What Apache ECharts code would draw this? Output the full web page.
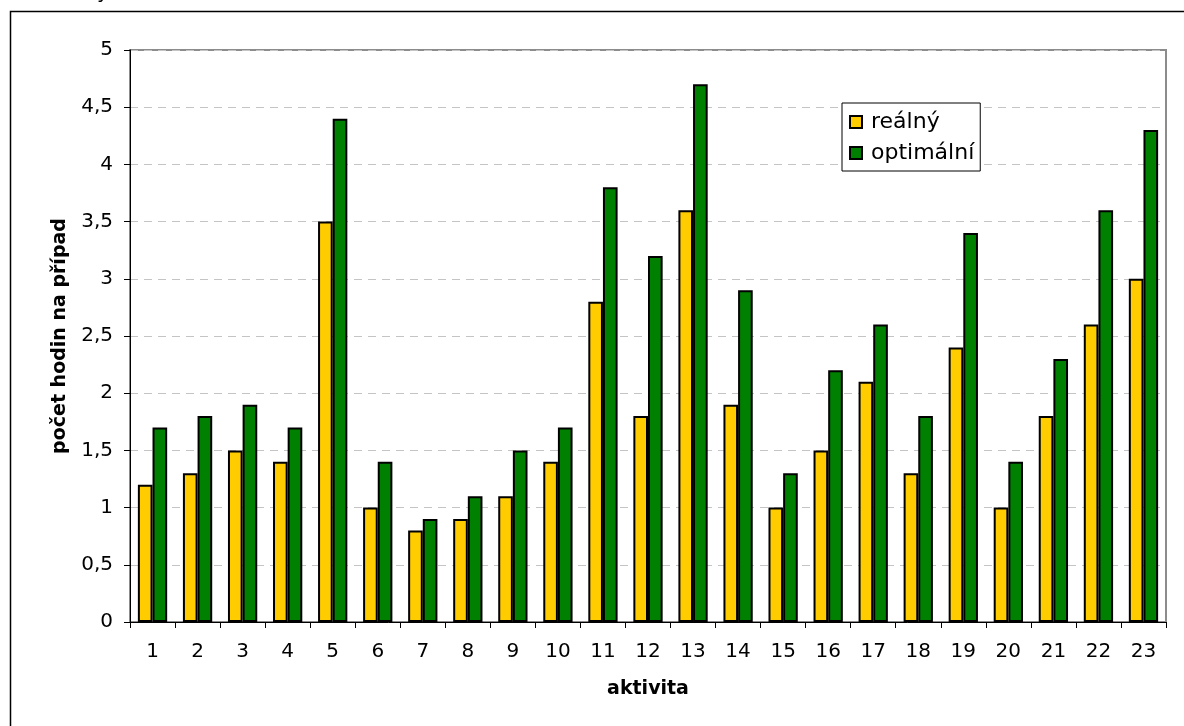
<!DOCTYPE html>
<html>
<head>
<meta charset="utf-8">
<script src="https://cdn.jsdelivr.net/npm/echarts@6/dist/echarts.min.js"></script>
<style>
  html, body { margin: 0; padding: 0; background: #fff; }
</style>
</head>
<body>
<div id="chart" style="width:1184px;height:726px;"></div>
<script>
var activities = ["1","2","3","4","5","6","7","8","9","10","11","12","13","14","15","16","17","18","19","20","21","22","23"];
var realne = [1.2, 1.3, 1.5, 1.4, 3.5, 1.0, 0.8, 0.9, 1.1, 1.4, 2.8, 1.8, 3.6, 1.9, 1.0, 1.5, 2.1, 1.3, 2.4, 1.0, 1.8, 2.6, 3.0];
var optimalni = [1.7, 1.8, 1.9, 1.7, 4.4, 1.4, 0.9, 1.1, 1.5, 1.7, 3.8, 3.2, 4.7, 2.9, 1.3, 2.2, 2.6, 1.8, 3.4, 1.4, 2.3, 3.6, 4.3];

var chart = echarts.init(document.getElementById("chart"));
var font = "DejaVu Sans";

var option = {
  animation: false,
  textStyle: { fontFamily: font },
  graphic: [
    {
      // outer frame, runs off the bottom/right of the picture
      type: "rect",
      shape: { x: 10.5, y: 11.5, width: 1300, height: 900 },
      style: { fill: "none", stroke: "#000", lineWidth: 1.5 },
      silent: true,
      z: -10
    },
    {
      type: "text",
      left: 97,
      top: -17,
      style: { text: "y", font: "20px DejaVu Sans", fill: "#000" }
    }
  ],
  grid: {
    left: 130,
    top: 50,
    right: 18,
    bottom: 104,
    show: true,
    borderColor: "#8c8c8c",
    borderWidth: 2
  },
  legend: {
    orient: "vertical",
    left: 842,
    top: 103,
    backgroundColor: "#fff",
    borderColor: "#000",
    borderWidth: 1,
    padding: [8, 6, 7, 7],
    itemGap: 9,
    itemWidth: 12,
    itemHeight: 12,
    textStyle: { fontFamily: font, fontSize: 22, color: "#000", padding: [0, 0, 0, 4] },
    data: [
      { name: "reálný", icon: "rect" },
      { name: "optimální", icon: "rect" }
    ]
  },
  xAxis: {
    type: "category",
    data: activities,
    name: "aktivita",
    nameLocation: "middle",
    nameGap: 58,
    nameTextStyle: { fontFamily: font, fontSize: 19, fontWeight: "bold", color: "#000" },
    axisLine: { lineStyle: { color: "#000", width: 1 } },
    axisTick: { show: true, length: 6, lineStyle: { color: "#000" } },
    axisLabel: { fontSize: 20, color: "#000", margin: 20, fontFamily: font }
  },
  yAxis: {
    type: "value",
    min: 0,
    max: 5,
    interval: 0.5,
    name: "počet hodin na případ",
    nameLocation: "middle",
    nameGap: 60,
    nameTextStyle: { fontFamily: font, fontSize: 19, fontWeight: "bold", color: "#000" },
    axisLine: { show: true, lineStyle: { color: "#000", width: 1 } },
    axisTick: { show: true, length: 6, lineStyle: { color: "#000" } },
    axisLabel: {
      fontSize: 20,
      color: "#000",
      margin: 17,
      fontFamily: font,
      formatter: function (v) { return String(v).replace(".", ","); }
    },
    splitLine: { show: true, lineStyle: { color: "#c4c4c4", type: [8, 6] } }
  },
  series: [
    {
      name: "reálný",
      type: "bar",
      data: realne,
      barGap: "0%",
      barCategoryGap: "35%",
      itemStyle: { color: "#ffcc00", borderColor: "#000", borderWidth: 2 }
    },
    {
      name: "optimální",
      type: "bar",
      data: optimalni,
      barGap: "0%",
      barCategoryGap: "35%",
      itemStyle: { color: "#008000", borderColor: "#000", borderWidth: 2 }
    }
  ]
};
chart.setOption(option);
window.addEventListener("resize", function () {
  chart.resize();
});
</script>
</body>
</html>
